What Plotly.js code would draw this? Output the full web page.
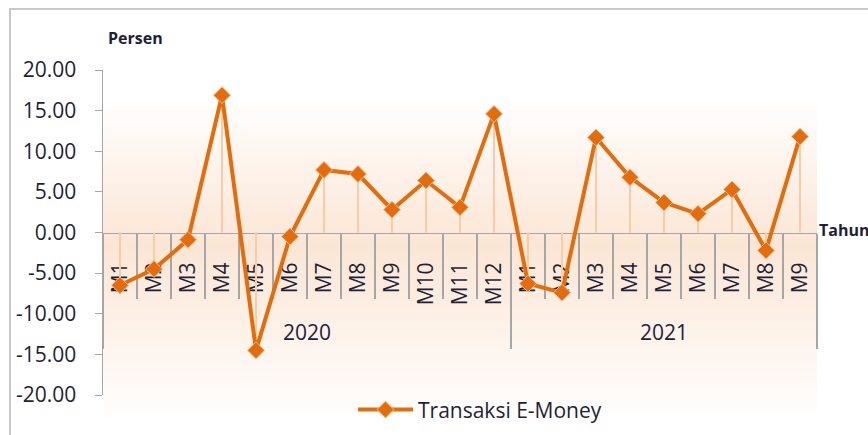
<!DOCTYPE html>
<html>
<head>
<meta charset="utf-8">
<script src="https://cdn.plot.ly/plotly-3.0.1.min.js"></script>
<style>html,body{margin:0;padding:0;background:#fff;}#chart{width:868px;height:435px;}</style>
</head>
<body>
<div id="chart"></div>
<script>
// ---- data ----
const years = ['2020', '2021'];
const months2020 = ['M1','M2','M3','M4','M5','M6','M7','M8','M9','M10','M11','M12'];
const months2021 = ['M1','M2','M3','M4','M5','M6','M7','M8','M9'];
const values2020 = [-6.5, -4.5, -0.9, 16.9, -14.5, -0.5, 7.7, 7.2, 2.8, 6.4, 3.1, 14.6];
const values2021 = [-6.3, -7.4, 11.7, 6.8, 3.7, 2.3, 5.3, -2.2, 11.8];
const yTickVals = [-20, -15, -10, -5, 0, 5, 10, 15, 20];
const yTickText = ['-20.00','-15.00','-10.00','-5.00','0.00','5.00','10.00','15.00','20.00'];
const seriesName = 'Transaksi E-Money';

// ---- derived ----
const labels = months2020.concat(months2021);
const values = values2020.concat(values2021);
const idx = labels.map((_, i) => i);
const n = labels.length;
const bounds = [];
for (let i = 0; i <= n; i++) bounds.push(i - 0.5);
const groupSizes = [months2020.length, months2021.length];
const yearBounds = [-0.5];
const yearCenters = [];
let start = 0;
groupSizes.forEach(s => { yearCenters.push(start + (s - 1) / 2); start += s; yearBounds.push(start - 0.5); });

const txt = '#1f1f38';
const font = '"Open Sans", Lato, sans-serif';
const orange = '#E46C0A';

const grad = 'data:image/svg+xml;utf8,' + encodeURIComponent(
  '<svg xmlns="http://www.w3.org/2000/svg" width="100" height="100" preserveAspectRatio="none">' +
  '<defs><linearGradient id="g" x1="0" y1="0" x2="0" y2="1">' +
  '<stop offset="0" stop-color="#ffffff"/><stop offset="0.08" stop-color="#ffffff"/>' +
  '<stop offset="0.5" stop-color="#fbe6d5"/><stop offset="1" stop-color="#ffffff"/>' +
  '</linearGradient></defs><rect width="100" height="100" fill="url(#g)"/></svg>');

const traces = [
  { // drop lines
    x: idx, y: values, type: 'scatter', mode: 'markers',
    marker: {size: 1, color: 'rgba(0,0,0,0)'},
    error_y: {type: 'data', symmetric: false,
      array: values.map(v => Math.max(-v, 0)),
      arrayminus: values.map(v => Math.max(v, 0)),
      color: '#f9cba6', thickness: 2, width: 0},
    showlegend: false, hoverinfo: 'skip'
  },
  {
    x: idx, y: values, type: 'scatter', mode: 'lines+markers', name: seriesName,
    line: {color: orange, width: 4},
    marker: {symbol: 'diamond', size: 13, color: orange, line: {color: '#f5b888', width: 1}}
  },
  {x: [], y: [], xaxis: 'x2', showlegend: false, hoverinfo: 'skip'},
  {x: [], y: [], xaxis: 'x3', showlegend: false, hoverinfo: 'skip'}
];

const xr = [-0.5, n - 0.5];
const layout = {
  width: 868, height: 435,
  margin: {l: 103, r: 51, t: 70, b: 40, autoexpand: false},
  paper_bgcolor: '#ffffff', plot_bgcolor: 'rgba(0,0,0,0)',
  font: {family: font, color: txt},
  images: [{source: grad, xref: 'paper', yref: 'paper', x: 0, y: 1, sizex: 1, sizey: 1.08,
            sizing: 'stretch', layer: 'below', xanchor: 'left', yanchor: 'top'}],
  xaxis: {
    range: xr, anchor: 'free', position: 0.5, tickmode: 'array', tickvals: idx, ticktext: labels,
    tickangle: -90, ticks: '', showline: true, linecolor: '#a6a6a6', linewidth: 1.5,
    showgrid: false, zeroline: false, tickfont: {size: 21, color: txt, family: font},
    ticklabelstandoff: 20, layer: 'below traces', automargin: false
  },
  xaxis2: {
    range: xr, overlaying: 'x', anchor: 'free', position: 0.5, tickmode: 'array', tickvals: bounds,
    ticks: 'outside', ticklen: 65, tickcolor: '#a6a6a6', tickwidth: 1.2, showticklabels: false,
    showline: false, showgrid: false, zeroline: false, layer: 'below traces'
  },
  xaxis3: {
    range: xr, overlaying: 'x', anchor: 'free', position: 0.5, tickmode: 'array', tickvals: yearBounds,
    ticks: 'outside', ticklen: 115, tickcolor: '#a6a6a6', tickwidth: 1.2, showticklabels: false,
    showline: false, showgrid: false, zeroline: false, layer: 'below traces'
  },
  yaxis: {
    range: [-20, 20], tickmode: 'array', tickvals: yTickVals, ticktext: yTickText,
    ticks: 'outside', ticklen: 7, tickcolor: '#a6a6a6', showline: true, linecolor: '#a6a6a6', linewidth: 1.5,
    showgrid: false, zeroline: false, tickfont: {size: 21, color: txt, family: font},
    ticklabelstandoff: 14, automargin: false
  },
  showlegend: true,
  legend: {orientation: 'h', x: 0.528, xanchor: 'center', y: -0.046, yanchor: 'middle',
           font: {size: 21, color: txt, family: font}, itemwidth: 55, bgcolor: 'rgba(0,0,0,0)'},
  annotations: years.map((yr, i) => ({
    text: yr, x: yearCenters[i], y: -12.3, xref: 'x', yref: 'y', showarrow: false,
    font: {size: 21, color: txt, family: font}
  })).concat([
    {text: '<b>Persen</b>', xref: 'paper', yref: 'paper', x: 0.0049, y: 1.098, yanchor: 'middle', showarrow: false,
     font: {size: 16, color: txt, family: font}},
    {text: '<b>Tahun</b>', xref: 'paper', yref: 'paper', x: 1.0, y: 0.508, xanchor: 'left', yanchor: 'middle', showarrow: false,
     font: {size: 16, color: txt, family: font}}
  ]),
  shapes: [{type: 'rect', xref: 'paper', yref: 'paper', x0: -0.1303, x1: 1.3, y0: -0.3, y1: 1.1877,
            line: {color: '#c8c8c8', width: 2}, layer: 'below'}]
};

Plotly.newPlot('chart', traces, layout, {displayModeBar: false, staticPlot: true});
</script>
</body>
</html>
